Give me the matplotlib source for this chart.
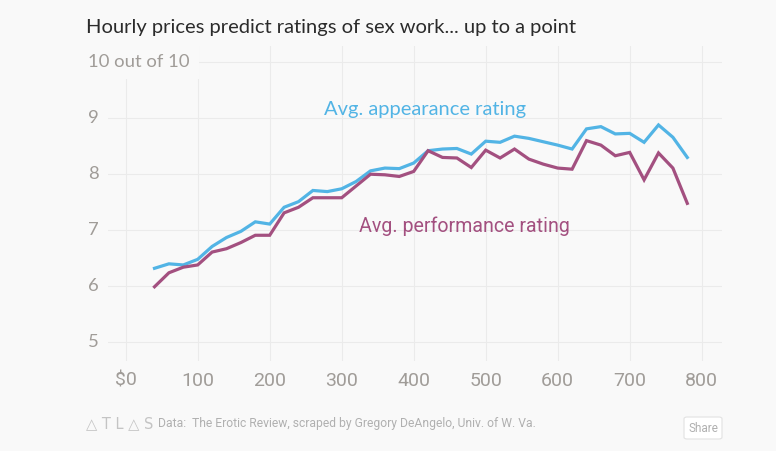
import matplotlib.pyplot as plt
from matplotlib.patches import FancyBboxPatch

# hourly price ($) and average ratings
price = [40, 60, 80, 100, 120, 140, 160, 180, 200, 220,
         240, 260, 280, 300, 320, 340, 360, 380, 400, 420,
         440, 460, 480, 500, 520, 540, 560, 580, 600, 620,
         640, 660, 680, 700, 720, 740, 760, 780]
appearance = [6.32, 6.40, 6.38, 6.48, 6.71, 6.87, 6.98, 7.15, 7.11, 7.41,
              7.51, 7.71, 7.69, 7.74, 7.87, 8.06, 8.11, 8.10, 8.20, 8.42,
              8.45, 8.46, 8.36, 8.59, 8.57, 8.68, 8.64, 8.58, 8.52, 8.45,
              8.81, 8.85, 8.72, 8.73, 8.57, 8.88, 8.66, 8.30]
performance = [5.99, 6.24, 6.34, 6.38, 6.61, 6.67, 6.78, 6.91, 6.91, 7.31,
               7.41, 7.58, 7.58, 7.58, 7.79, 8.00, 7.99, 7.96, 8.05, 8.42,
               8.30, 8.29, 8.12, 8.43, 8.29, 8.45, 8.27, 8.18, 8.11, 8.09,
               8.60, 8.52, 8.33, 8.39, 7.90, 8.38, 8.11, 7.48]

x_ticks = [0, 100, 200, 300, 400, 500, 600, 700, 800]
x_labels = ['$0', '100', '200', '300', '400', '500', '600', '700', '800']
y_ticks = [5, 6, 7, 8, 9, 10]
y_labels = ['5', '6', '7', '8', '9', '10 out of 10']

BG = '#f9f9f9'
GRID = '#ebebeb'
BLUE = '#52b4e5'
PURPLE = '#a35080'
TICK = '#a09c98'
NARROW = ['Roboto', 'DejaVu Sans']

W, H = 776, 451
fig = plt.figure(figsize=(W / 100, H / 100), dpi=100, facecolor=BG)
ax = fig.add_axes([105 / W, 1 - 360.7 / H, 617 / W, 314.7 / H], facecolor=BG)

ax.plot(price, appearance, color=BLUE, lw=2.3, solid_joinstyle='miter', zorder=4)
ax.plot(price, performance, color=PURPLE, lw=2.3, solid_joinstyle='miter', zorder=4)

ax.set_xlim(-28.75, 828.2)
ax.set_ylim(4.67, 10.29)
ax.set_xticks(x_ticks)
ax.set_xticklabels(x_labels, fontsize=14, color=TICK,
                   family=['Roboto', 'DejaVu Sans'])
ax.set_yticks(y_ticks)
ax.set_yticklabels([])
ax.tick_params(length=0, pad=8)
ax.grid(True, color=GRID, lw=0.8)
ax.set_axisbelow(True)
for s in ax.spines.values():
    s.set_visible(False)

# y labels sit on top of the gridlines with a background box
for v, lab in zip(y_ticks, y_labels):
    ax.text(-17 / 617, v, lab, transform=ax.get_yaxis_transform(),
            ha='left', va='center', fontsize=13.3, color=TICK,
            family=['Lato', 'DejaVu Sans'],
            bbox=dict(boxstyle='square,pad=0.5', fc=BG, ec='none'),
            zorder=3)

ax.text(275, 9.15, 'Avg. appearance rating', color=BLUE, fontsize=14.5,
        family=['Lato', 'DejaVu Sans'], ha='left', va='center')
ax.text(324, 7.07, 'Avg. performance rating', color=PURPLE, fontsize=14.1,
        family=NARROW, ha='left', va='center')

fig.text(86 / W, 1 - 28 / H, 'Hourly prices predict ratings of sex work... up to a point',
         fontsize=14.5, color='#2b2b2b', family=['Lato', 'DejaVu Sans'],
         ha='left', va='center')

fig.text(86 / W, 1 - 424 / H, '\u25b3 T L \u25b3 S', fontsize=10.5, color='#c4c4c4',
         family=['DejaVu Sans'], ha='left', va='center')
fig.text(158 / W, 1 - 424 / H,
         'Data:  The Erotic Review, scraped by Gregory DeAngelo, Univ. of W. Va.',
         fontsize=8.7, color='#b0b0b0', family=NARROW, ha='left', va='center')

btn = FancyBboxPatch((684 / W, 1 - 439 / H), 38 / W, 22 / H,
                     boxstyle='round,pad=0,rounding_size=0.004',
                     transform=fig.transFigure, fc='#ffffff', ec='#e2e2e2', lw=0.8)
fig.patches.append(btn)
fig.text(703 / W, 1 - 428 / H, 'Share', fontsize=8.5, color='#b0b0b0',
         family=NARROW, ha='center', va='center')

fig.savefig('out.png', dpi=100, facecolor=BG)
